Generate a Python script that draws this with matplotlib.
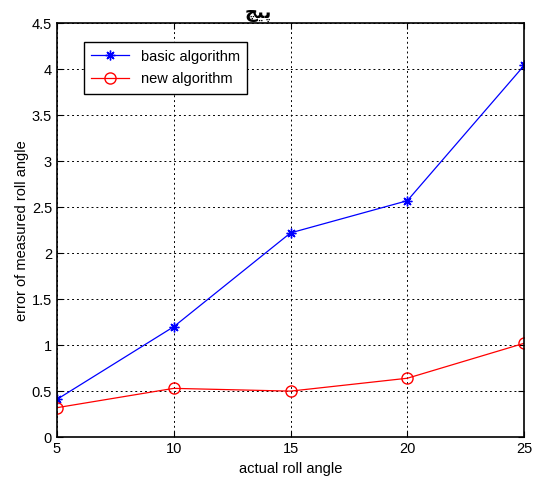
import matplotlib.pyplot as plt

# data
angles = [5, 10, 15, 20, 25]
basic_err = [0.41, 1.20, 2.22, 2.57, 4.04]
new_err = [0.32, 0.53, 0.50, 0.64, 1.02]

# Persian title "پیچ" written with presentation forms (matplotlib does no shaping)
title_text = "\uFB7B\uFBFF\uFB58"

plt.rcParams['font.family'] = ['Liberation Sans', 'DejaVu Sans']

fig = plt.figure(figsize=(5.37, 4.83), dpi=100)
ax = fig.add_axes([0.106, 0.095, 0.870, 0.857])

ax.plot(angles, basic_err, color='blue', marker=(8, 2, 0), markersize=7, linewidth=0.9,
        markeredgewidth=1.0, label='basic algorithm')
ax.plot(angles, new_err, color='red', marker='o', markersize=8, markerfacecolor='none',
        linewidth=0.9, label='new algorithm')

ax.set_xlim(5, 25)
ax.set_ylim(0, 4.5)
ax.set_xticks([5, 10, 15, 20, 25])
ax.set_yticks([0, 0.5, 1, 1.5, 2, 2.5, 3, 3.5, 4, 4.5])
ax.set_yticklabels(['0', '0.5', '1', '1.5', '2', '2.5', '3', '3.5', '4', '4.5'])
ax.grid(True, color='black', linestyle=(0, (2, 3)), linewidth=0.7)
ax.tick_params(direction='in', top=True, right=True, labelsize=10.5, length=4)
for s in ax.spines.values():
    s.set_linewidth(1.2)

ax.set_xlabel('actual roll angle', fontsize=10.5, labelpad=4)
ax.set_ylabel('error of measured roll angle', fontsize=10.5, labelpad=2)
ax.text(0.43, 1.004, title_text, transform=ax.transAxes, ha='center', va='bottom',
        fontsize=13, fontweight='bold', family=['DejaVu Sans', 'Noto Sans'])

leg = ax.legend(loc='upper left', bbox_to_anchor=(0.058, 0.954), fontsize=10.5,
                fancybox=False, edgecolor='black', framealpha=1, borderpad=0.5,
                borderaxespad=0, handlelength=2.6, labelspacing=0.6)
leg.get_frame().set_linewidth(1.0)

fig.savefig('out.png', dpi=100)
